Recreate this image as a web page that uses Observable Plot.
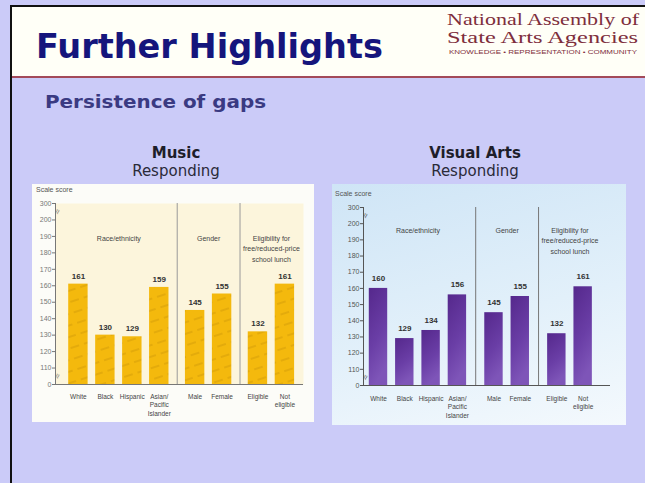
<!DOCTYPE html>
<html>
<head>
<meta charset="utf-8">
<script src="https://cdn.jsdelivr.net/npm/d3@7"></script>
<script src="https://cdn.jsdelivr.net/npm/@observablehq/plot@0.6"></script>
<style>
  html, body { margin: 0; padding: 0; background: #cbcbf8; }
  #slide { position: relative; width: 645px; height: 483px; overflow: hidden; background: #cbcbf8; font-family: "DejaVu Sans", Verdana, sans-serif; }
  #header { position: absolute; left: 10px; top: 5px; width: 640px; height: 71px; background: #fffff7; border-top: 2px solid #111; }
  #redline { position: absolute; left: 10px; top: 76px; width: 640px; height: 2px; background: #a34a5a; }
  #leftline { position: absolute; left: 10px; top: 5px; width: 2px; height: 480px; background: #111; }
  #texts { position: absolute; left: 0; top: 0; }
  .panel { position: absolute; }
  #music { left: 32px; top: 184px; width: 282px; height: 238px; background: #fcfcf8; }
  #visual { left: 332px; top: 184px; width: 294px; height: 241px; background: linear-gradient(165deg, #cfe5f6 0%, #e2f0fa 55%, #f4f9fd 100%); }
  .scale { position: absolute; font-family: "Liberation Sans", Arial, sans-serif; font-size: 7px; color: #555; }
  svg { overflow: visible; }
</style>
</head>
<body>
<div id="slide">
  <div id="header"></div>
  <div id="redline"></div>
  <div id="leftline"></div>
  <svg id="texts" width="645" height="183">
    <text x="36" y="58" font-family="DejaVu Sans" font-weight="bold" font-size="33" fill="#15157c" textLength="347" lengthAdjust="spacingAndGlyphs">Further Highlights</text>
    <text x="45" y="108" font-family="DejaVu Sans" font-weight="bold" font-size="18" fill="#3a3a82" textLength="221" lengthAdjust="spacingAndGlyphs">Persistence of gaps</text>
    <text x="447" y="25" font-family="Liberation Serif" font-size="16.5" fill="#7e2e3c" textLength="192" lengthAdjust="spacingAndGlyphs">National Assembly of</text>
    <text x="447" y="43" font-family="Liberation Serif" font-size="16.5" fill="#7e2e3c" textLength="191" lengthAdjust="spacingAndGlyphs">State Arts Agencies</text>
    <text x="449" y="54" font-family="Liberation Sans" font-size="4.5" fill="#7e2e3c" textLength="188" lengthAdjust="spacingAndGlyphs">KNOWLEDGE • REPRESENTATION • COMMUNITY</text>
    <text x="176" y="158" text-anchor="middle" font-family="DejaVu Sans" font-weight="bold" font-size="15" fill="#1e1e2a">Music</text>
    <text x="176" y="176" text-anchor="middle" font-family="DejaVu Sans" font-size="15" fill="#2a2a38">Responding</text>
    <text x="475" y="158" text-anchor="middle" font-family="DejaVu Sans" font-weight="bold" font-size="15" fill="#1e1e2a">Visual Arts</text>
    <text x="475" y="176" text-anchor="middle" font-family="DejaVu Sans" font-size="15" fill="#2a2a38">Responding</text>
  </svg>
  <div id="music" class="panel"><span class="scale" style="left:4px;top:2px">Scale score</span></div>
  <div id="visual" class="panel"><span class="scale" style="left:3px;top:6px">Scale score</span></div>
</div>
<script>
// ---- data ----
const categories = ["White", "Black", "Hispanic", "Asian/Pacific Islander", "Male", "Female", "Eligible", "Not eligible"];
const tickLabels = ["White", "Black", "Hispanic", "Asian/\nPacific\nIslander", "Male", "Female", "Eligible", "Not\neligible"];
const groupOf = ["Race/ethnicity", "Race/ethnicity", "Race/ethnicity", "Race/ethnicity", "Gender", "Gender", "Eligibility", "Eligibility"];
const groupNames = ["Race/ethnicity", "Gender", "Eligibility"];
const groupLabels = ["Race/ethnicity", "Gender", "Eligibility for\nfree/reduced-price\nschool lunch"];
const musicScores = [161, 130, 129, 159, 145, 155, 132, 161];
const visualScores = [160, 129, 134, 156, 145, 155, 132, 161];
const yTicks = [0, 110, 120, 130, 140, 150, 160, 170, 180, 190, 200, 300];

// broken axis: 0..110 and 200..300 compressed to one tick step each
const brk = v => v <= 110 ? 100 + v / 110 * 10 : v <= 200 ? v : 200 + (v - 200) / 100 * 10;
const tickMap = new Map(yTicks.map(v => [brk(v), String(v)]));

function drawChart(cfg) {
  const rows = categories.map((c, i) => ({
    cat: c,
    tick: tickLabels[i],
    value: cfg.scores[i],
    pos: i + groupNames.indexOf(groupOf[i]) * cfg.gap
  }));
  const groups = groupNames.map((g, k) => {
    const ps = rows.filter((r, i) => groupOf[i] === g).map(r => r.pos);
    return { label: groupLabels[k], center: d3.mean(ps), first: d3.min(ps), last: d3.max(ps) };
  });
  const seps = groups.slice(1).map((g, k) => (groups[k].last + g.first) / 2);
  const base = brk(0);
  const hw = cfg.halfWidth;

  const svg = Plot.plot({
    width: cfg.width, height: cfg.height,
    marginTop: cfg.mt, marginBottom: cfg.mb, marginLeft: cfg.ml, marginRight: cfg.mr,
    style: { fontFamily: "Liberation Sans, Arial, sans-serif", fontSize: "7px", background: "transparent", overflow: "visible" },
    x: { domain: cfg.xDomain, axis: null },
    y: { domain: [brk(0), brk(300)], axis: null },
    marks: [
      Plot.frame({ fill: cfg.frameFill, stroke: null }),
      Plot.ruleX(seps, { stroke: cfg.sepColor, strokeWidth: 1 }),
      Plot.rectY(rows, { x1: d => d.pos - hw, x2: d => d.pos + hw, y1: base, y2: d => brk(d.value), fill: cfg.barFill }),
      Plot.ruleY([base], { stroke: cfg.axisColor, strokeWidth: 1 }),
      Plot.ruleX([cfg.xDomain[0]], { stroke: cfg.axisColor, strokeWidth: 1 }),
      Plot.axisY({ ticks: yTicks.map(brk), tickFormat: d => tickMap.get(d), tickSize: 3, tickPadding: 1, fontSize: 7, color: cfg.axisColor, stroke: cfg.axisColor }),
      Plot.text(["≈", "≈"], { x: cfg.xDomain[0], y: [brk(55), brk(250)], text: d => d, rotate: -70, fontSize: 9, fill: cfg.axisColor, dx: 2 }),
      Plot.text(rows, { x: "pos", y: d => brk(d.value), text: d => String(d.value), dy: cfg.valueDy, fontSize: 8, fontWeight: "bold", fill: "#333" }),
      Plot.text(rows, { x: "pos", text: "tick", frameAnchor: "bottom", lineAnchor: "top", dy: cfg.tickDy, fontSize: 6.5, lineHeight: 1.25, fill: "#444" }),
      Plot.text(groups, { x: "center", text: "label", frameAnchor: "top", lineAnchor: "top", dy: cfg.groupDy, fontSize: 7, lineHeight: 1.5, fill: "#444" })
    ]
  });
  d3.select(svg).insert("defs", ":first-child").html(cfg.defs);
  document.querySelector(cfg.el).appendChild(svg);
}

drawChart({
  el: "#music", scores: musicScores, width: 282, height: 238,
  mt: 19, mb: 38, ml: 23, mr: 11, xDomain: [-0.85, 8.35], gap: 0.33, halfWidth: 0.36,
  frameFill: "#fcf5dc", sepColor: "#9a9a9a", axisColor: "#777",
  barFill: "url(#musicPat)", valueDy: -8, tickDy: 9, groupDy: 30,
  defs: `<pattern id="musicPat" patternUnits="userSpaceOnUse" width="14" height="11" patternTransform="rotate(-18)">
           <rect width="14" height="11" fill="#f4b90d"/>
           <line x1="0" y1="3" x2="9" y2="3" stroke="#9c6a00" stroke-opacity="0.45" stroke-width="0.8"/>
         </pattern>`
});

drawChart({
  el: "#visual", scores: visualScores, width: 294, height: 241,
  mt: 23, mb: 40, ml: 31, mr: 16, xDomain: [-0.57, 8.82], gap: 0.39, halfWidth: 0.35,
  frameFill: "none", sepColor: "#777", axisColor: "#555",
  barFill: "url(#vaGrad)", valueDy: -10, tickDy: 10, groupDy: 18,
  defs: `<linearGradient id="vaGrad" x1="0" y1="0" x2="0.3" y2="1">
           <stop offset="0" stop-color="#55288c"/>
           <stop offset="0.6" stop-color="#6a3ea6"/>
           <stop offset="1" stop-color="#7e55b8"/>
         </linearGradient>`
});
</script>
</body>
</html>
